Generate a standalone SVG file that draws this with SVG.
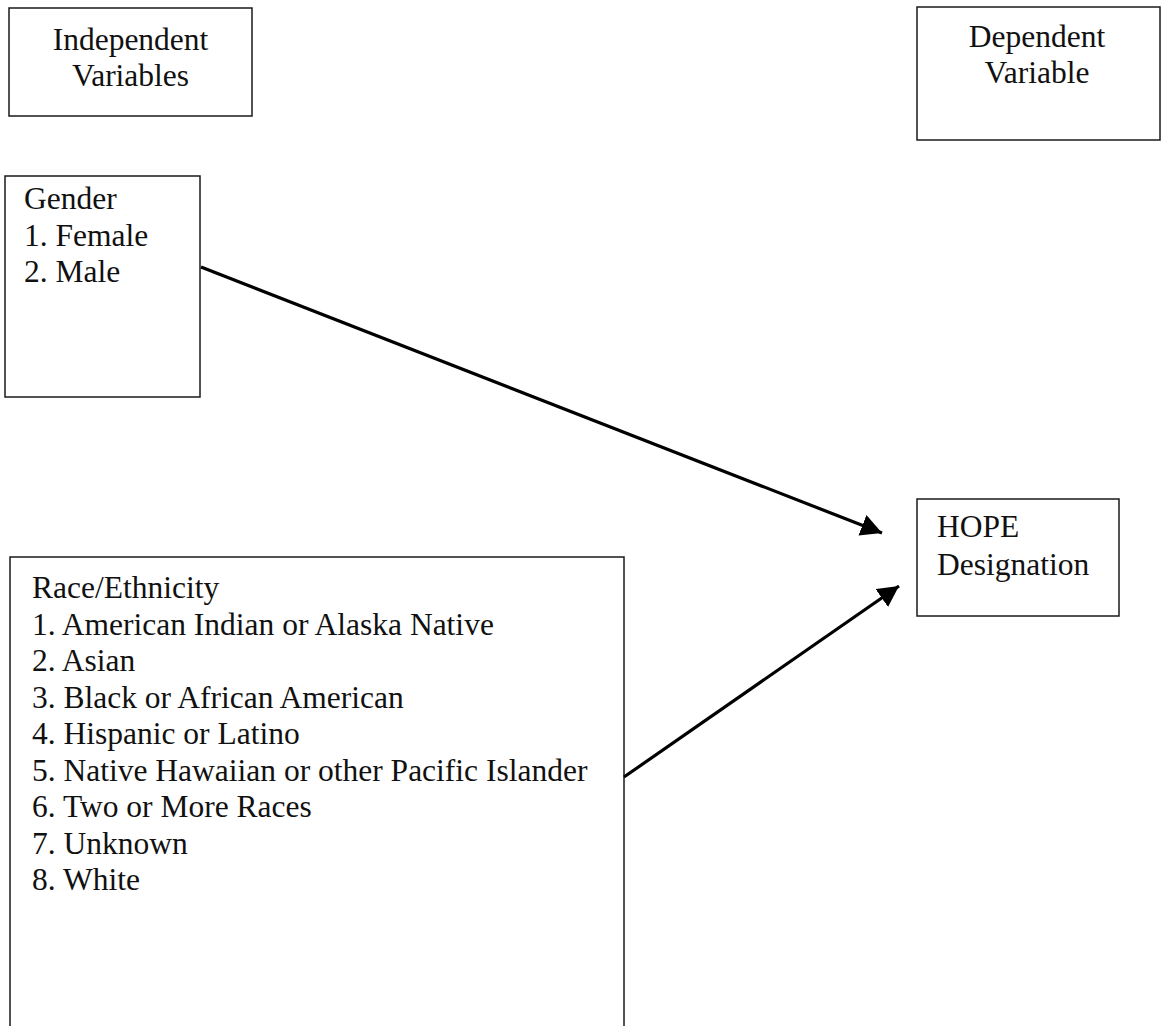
<svg xmlns="http://www.w3.org/2000/svg" width="1161" height="1026" viewBox="0 0 1161 1026">
  <style>
    .box { fill: #ffffff; stroke: #1a1a1a; stroke-width: 1.5; }
    .txt { font-family: "Liberation Serif", "Times New Roman", serif; font-size: 31.5px; fill: #111111; }
    .mid { text-anchor: middle; }
    .edge { stroke: #000000; stroke-width: 3.2; fill: none; }
  </style>
  <defs>
    <marker id="head" markerUnits="userSpaceOnUse" markerWidth="24" markerHeight="24" refX="21" refY="11" orient="auto">
      <path d="M0,0 L21,11 L0,22 Z" fill="#000000"/>
    </marker>
  </defs>
  <rect width="1161" height="1026" fill="#ffffff"/>

  <g id="independent-header">
    <rect class="box" x="9" y="8" width="243" height="108"/>
    <text class="txt mid" x="130.5" y="50">Independent</text>
    <text class="txt mid" x="130.5" y="86">Variables</text>
  </g>

  <g id="dependent-header">
    <rect class="box" x="917" y="7" width="243" height="133"/>
    <text class="txt mid" x="1037" y="47">Dependent</text>
    <text class="txt mid" x="1037" y="83">Variable</text>
  </g>

  <g id="gender">
    <rect class="box" x="5" y="176" width="195" height="221"/>
    <text class="txt" x="24" y="209">Gender</text>
    <text class="txt" x="24" y="245.5">1. Female</text>
    <text class="txt" x="24" y="282">2. Male</text>
  </g>

  <g id="race-ethnicity">
    <rect class="box" x="10" y="557" width="614" height="480"/>
    <text class="txt" x="32" y="598">Race/Ethnicity</text>
    <text class="txt" x="32" y="634.5">1. American Indian or Alaska Native</text>
    <text class="txt" x="32" y="671">2. Asian</text>
    <text class="txt" x="32" y="707.5">3. Black or African American</text>
    <text class="txt" x="32" y="744">4. Hispanic or Latino</text>
    <text class="txt" x="32" y="780.5">5. Native Hawaiian or other Pacific Islander</text>
    <text class="txt" x="32" y="817">6. Two or More Races</text>
    <text class="txt" x="32" y="853.5">7. Unknown</text>
    <text class="txt" x="32" y="890">8. White</text>
  </g>

  <g id="hope-designation">
    <rect class="box" x="917" y="499" width="202" height="117"/>
    <text class="txt" x="937" y="537">HOPE</text>
    <text class="txt" x="937" y="575">Designation</text>
  </g>

  <g id="connectors">
    <line class="edge" x1="201" y1="267" x2="882" y2="533" marker-end="url(#head)"/>
    <line class="edge" x1="624" y1="777" x2="899" y2="586" marker-end="url(#head)"/>
  </g>
</svg>
